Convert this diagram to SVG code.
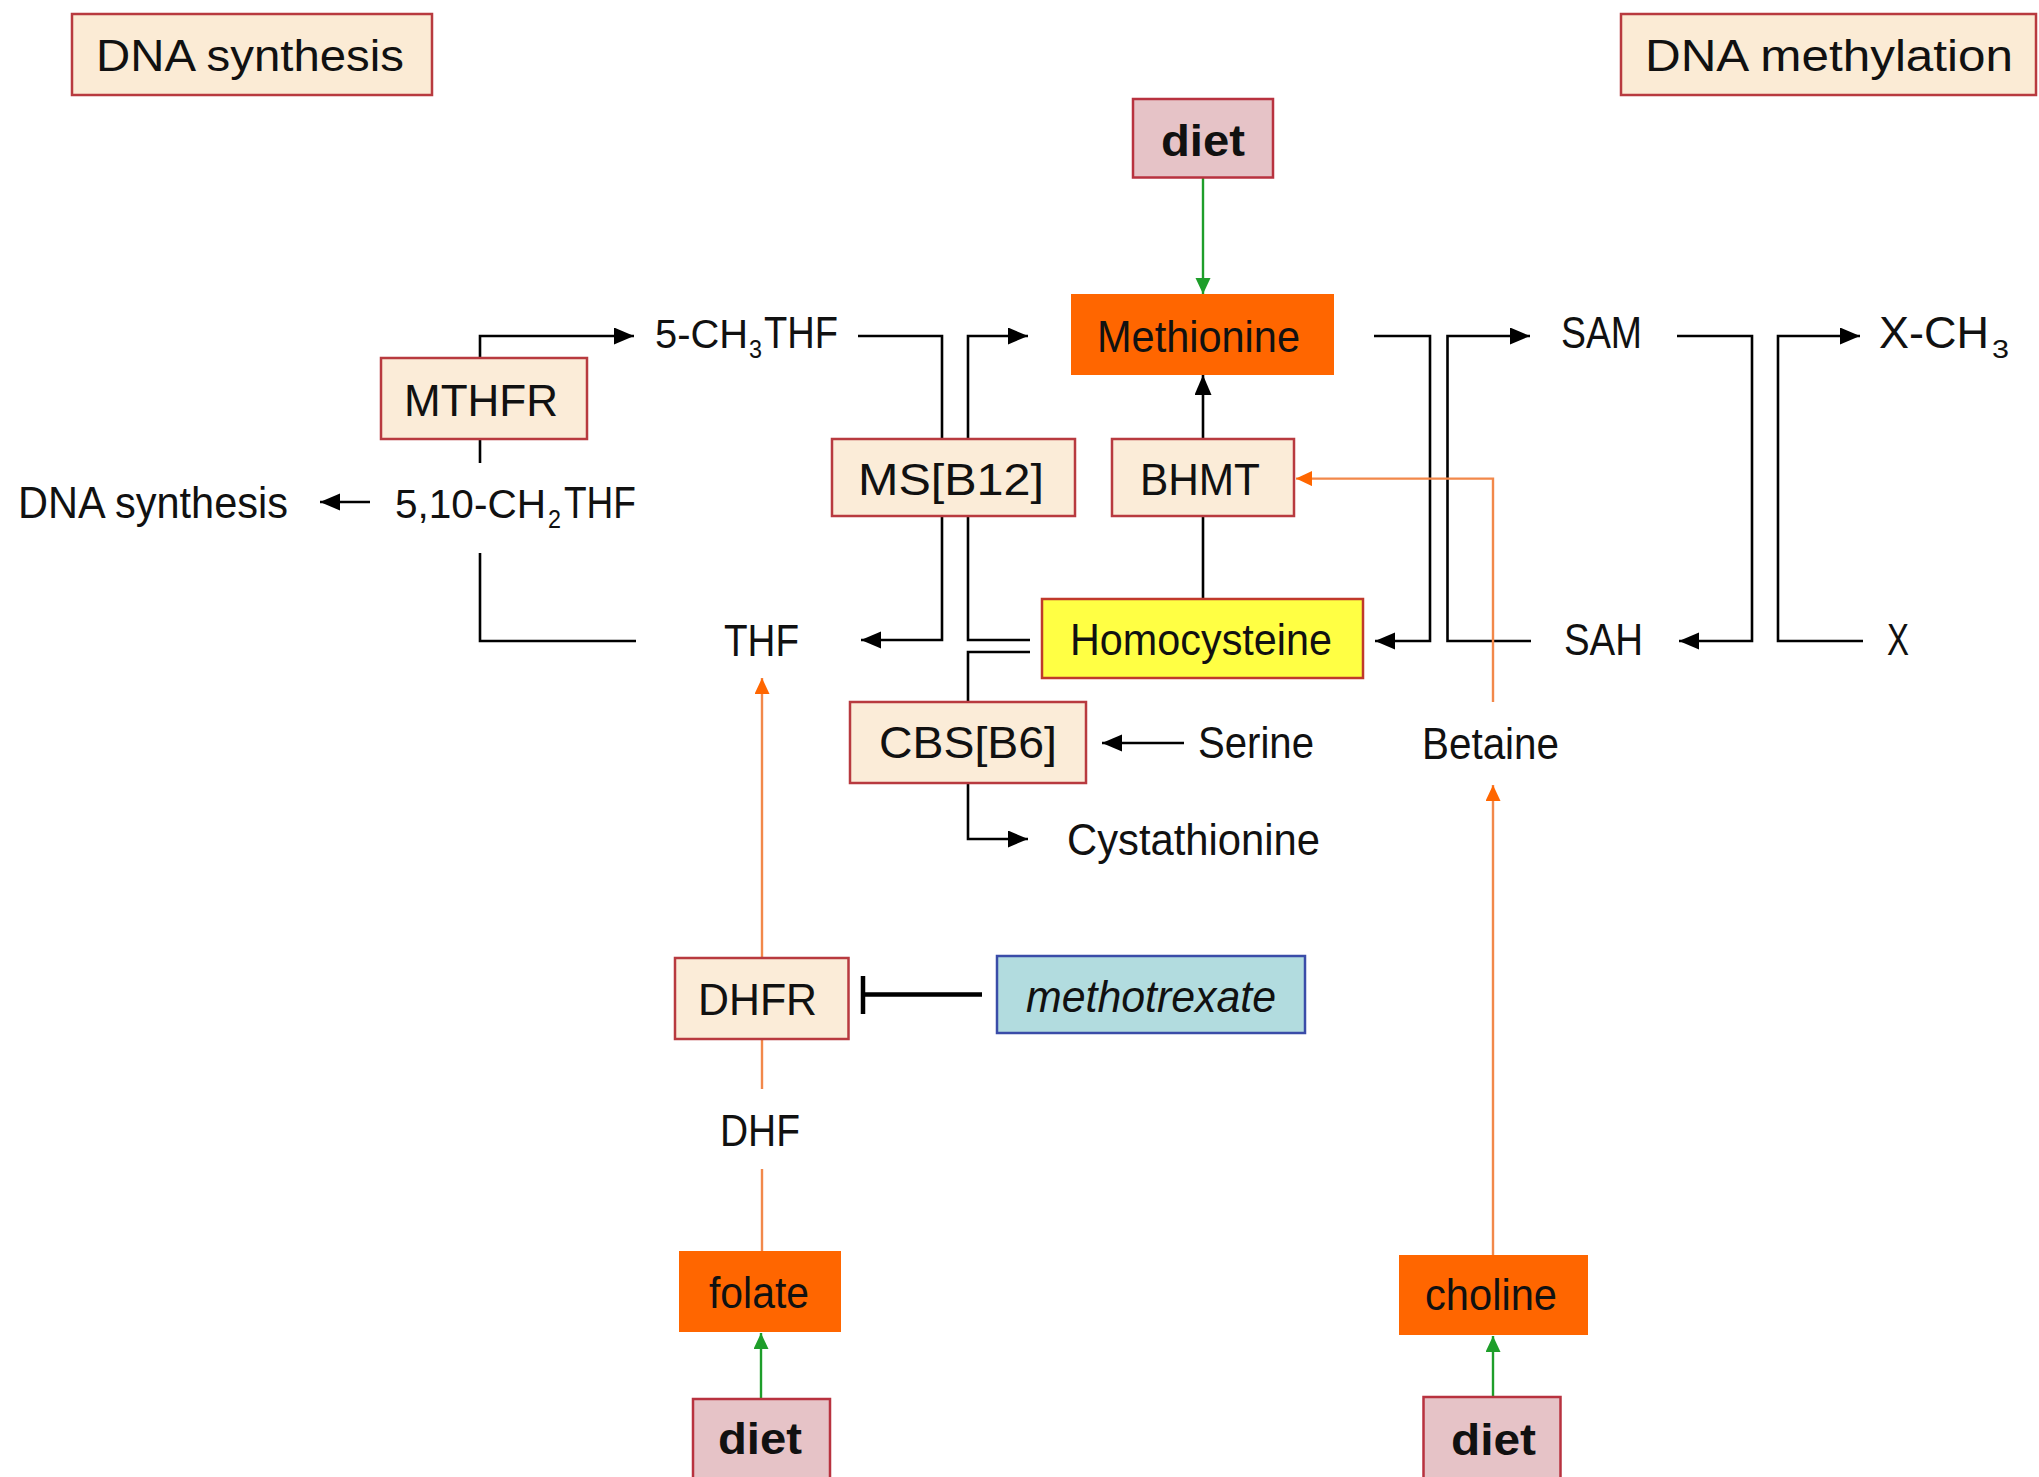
<svg xmlns="http://www.w3.org/2000/svg" width="2039" height="1477" viewBox="0 0 2039 1477">
<defs>
<marker id="ab" markerUnits="userSpaceOnUse" markerWidth="22" markerHeight="18" refX="20" refY="8.5" orient="auto"><path d="M0,0 L20,8.5 L0,17 z" fill="#000"/></marker>
<marker id="ao" markerUnits="userSpaceOnUse" markerWidth="18" markerHeight="16" refX="16" refY="7.5" orient="auto"><path d="M0,0 L16,7.5 L0,15 z" fill="#FF6600"/></marker>
<marker id="ag" markerUnits="userSpaceOnUse" markerWidth="18" markerHeight="16" refX="16" refY="7.5" orient="auto"><path d="M0,0 L16,7.5 L0,15 z" fill="#1E9E2A"/></marker>
</defs>
<style>
text{font-family:"Liberation Sans",Arial,sans-serif;font-size:44px;fill:#111}
.sub{font-size:25px}
.pre{font-size:40px}
.bx{fill:#FBECD8;stroke:#B83A3F;stroke-width:2.5}
.hd{fill:#FBEBD5;stroke:#B83A3F;stroke-width:2.5}
.dt{fill:#E6C3C7;stroke:#B8323F;stroke-width:2.5}
.or{fill:#FF6600}
.hc{fill:#FFFF44;stroke:#C0392B;stroke-width:2.5}
.mx{fill:#B2DCDF;stroke:#3A4CA8;stroke-width:2.5}
.bold{font-weight:bold}
.k{fill:none;stroke:#000;stroke-width:2.6}
.o{fill:none;stroke:#F2884A;stroke-width:2.4}
.g{fill:none;stroke:#1E9E2A;stroke-width:2.4}
</style>
<rect width="2039" height="1477" fill="#fff"/>
<g id="connectors">
<path class="k" d="M480,358 V336 H634" marker-end="url(#ab)"/>
<path class="k" d="M480,439 V463"/>
<path class="k" d="M480,553 V641 H636"/>
<path class="k" d="M370,502 H320" marker-end="url(#ab)"/>
<path class="k" d="M858,336 H942 V439"/>
<path class="k" d="M942,516 V640 H861" marker-end="url(#ab)"/>
<path class="k" d="M1030,640 H968 V336 H1028" marker-end="url(#ab)"/>
<path class="k" d="M1030,652 H968 V702"/>
<path class="k" d="M968,783 V839 H1028" marker-end="url(#ab)"/>
<path class="k" d="M1184,743 H1102" marker-end="url(#ab)"/>
<path class="k" d="M1203,516 V599"/>
<path class="k" d="M1203,439 V375" marker-end="url(#ab)"/>
<path class="k" d="M1374,336 H1430 V641 H1375" marker-end="url(#ab)"/>
<path class="k" d="M1531,641 H1447.5 V336 H1530" marker-end="url(#ab)"/>
<path class="k" d="M1677,336 H1752 V641 H1679" marker-end="url(#ab)"/>
<path class="k" d="M1863,641 H1778 V336 H1860" marker-end="url(#ab)"/>
<path class="g" d="M1203,178 V294" marker-end="url(#ag)"/>
<path class="o" d="M1493,702 V478.6 H1296" marker-end="url(#ao)"/>
<path class="o" d="M1493,1255 V785" marker-end="url(#ao)"/>
<path class="g" d="M1493,1397 V1336" marker-end="url(#ag)"/>
<path class="o" d="M762,958 V678" marker-end="url(#ao)"/>
<path class="o" d="M762,1039 V1089"/>
<path class="o" d="M762,1169 V1251"/>
<path class="g" d="M761,1399 V1333" marker-end="url(#ag)"/>
<path fill="none" stroke="#000" stroke-width="4.5" d="M982,994.6 H863 M863,976 V1014"/>
</g>
<g id="hdr-synthesis"><rect class="hd" x="72" y="14" width="360" height="81"/><text x="96" y="71" textLength="308" lengthAdjust="spacingAndGlyphs">DNA synthesis</text></g>
<g id="hdr-methylation"><rect class="hd" x="1621" y="14" width="415" height="81"/><text x="1645" y="71" textLength="368" lengthAdjust="spacingAndGlyphs">DNA methylation</text></g>
<g id="diet-top"><rect class="dt" x="1133" y="99" width="140" height="78.5"/><text class="bold" x="1161" y="156" textLength="84" lengthAdjust="spacingAndGlyphs">diet</text></g>
<g id="methionine"><rect class="or" x="1071" y="294" width="263" height="81"/><text x="1097" y="352" textLength="203" lengthAdjust="spacingAndGlyphs">Methionine</text></g>
<g id="mthfr"><rect class="bx" x="381" y="358" width="206" height="81"/><text x="404" y="416" textLength="154" lengthAdjust="spacingAndGlyphs">MTHFR</text></g>
<g id="ms"><rect class="bx" x="832" y="439" width="243" height="77"/><text x="858" y="495" textLength="186" lengthAdjust="spacingAndGlyphs">MS[B12]</text></g>
<g id="bhmt"><rect class="bx" x="1112" y="439" width="182" height="77"/><text x="1140" y="495" textLength="120" lengthAdjust="spacingAndGlyphs">BHMT</text></g>
<g id="homocysteine"><rect class="hc" x="1042" y="599" width="321" height="79"/><text x="1070" y="655" textLength="262" lengthAdjust="spacingAndGlyphs">Homocysteine</text></g>
<g id="cbs"><rect class="bx" x="850" y="702" width="236" height="81"/><text x="879" y="758" textLength="178" lengthAdjust="spacingAndGlyphs">CBS[B6]</text></g>
<g id="dhfr"><rect class="bx" x="675" y="958" width="173.5" height="81"/><text x="698" y="1015" textLength="119" lengthAdjust="spacingAndGlyphs">DHFR</text></g>
<g id="methotrexate"><rect class="mx" x="997" y="956" width="308" height="77"/><text x="1026" y="1012" font-style="italic" textLength="250" lengthAdjust="spacingAndGlyphs">methotrexate</text></g>
<g id="folate"><rect class="or" x="679" y="1251" width="162" height="81"/><text x="709" y="1308" textLength="100" lengthAdjust="spacingAndGlyphs">folate</text></g>
<g id="choline"><rect class="or" x="1399" y="1255" width="189" height="80"/><text x="1425" y="1310" textLength="132" lengthAdjust="spacingAndGlyphs">choline</text></g>
<g id="diet-left"><rect class="dt" x="693" y="1399" width="137" height="95"/><text class="bold" x="718" y="1454" textLength="84" lengthAdjust="spacingAndGlyphs">diet</text></g>
<g id="diet-right"><rect class="dt" x="1423.5" y="1397" width="137" height="95"/><text class="bold" x="1451" y="1455" textLength="85" lengthAdjust="spacingAndGlyphs">diet</text></g>
<g id="ch3thf">
<text class="pre" x="655" y="348" textLength="93" lengthAdjust="spacingAndGlyphs">5-CH</text>
<text class="sub" x="749" y="358" textLength="13" lengthAdjust="spacingAndGlyphs">3</text>
<text x="764" y="348" textLength="74" lengthAdjust="spacingAndGlyphs">THF</text>
</g>
<g id="ch2thf">
<text class="pre" x="395" y="518" textLength="151" lengthAdjust="spacingAndGlyphs">5,10-CH</text>
<text class="sub" x="548" y="528" textLength="13" lengthAdjust="spacingAndGlyphs">2</text>
<text x="564" y="518" textLength="72" lengthAdjust="spacingAndGlyphs">THF</text>
</g>
<g id="dna-synthesis"><text x="18" y="518" textLength="270" lengthAdjust="spacingAndGlyphs">DNA synthesis</text></g>
<g id="thf"><text x="724" y="656" textLength="75" lengthAdjust="spacingAndGlyphs">THF</text></g>
<g id="sam"><text x="1561" y="348" textLength="81" lengthAdjust="spacingAndGlyphs">SAM</text></g>
<g id="xch3">
<text x="1879" y="348" textLength="110" lengthAdjust="spacingAndGlyphs">X-CH</text>
<text class="sub" x="1992" y="358" textLength="17" lengthAdjust="spacingAndGlyphs">3</text>
</g>
<g id="sah"><text x="1564" y="655" textLength="79" lengthAdjust="spacingAndGlyphs">SAH</text></g>
<g id="x"><text x="1887" y="655" textLength="22" lengthAdjust="spacingAndGlyphs">X</text></g>
<g id="betaine"><text x="1422" y="759" textLength="137" lengthAdjust="spacingAndGlyphs">Betaine</text></g>
<g id="serine"><text x="1198" y="758" textLength="116" lengthAdjust="spacingAndGlyphs">Serine</text></g>
<g id="cystathionine"><text x="1067" y="855" textLength="253" lengthAdjust="spacingAndGlyphs">Cystathionine</text></g>
<g id="dhf"><text x="720" y="1146" textLength="80" lengthAdjust="spacingAndGlyphs">DHF</text></g>
</svg>
